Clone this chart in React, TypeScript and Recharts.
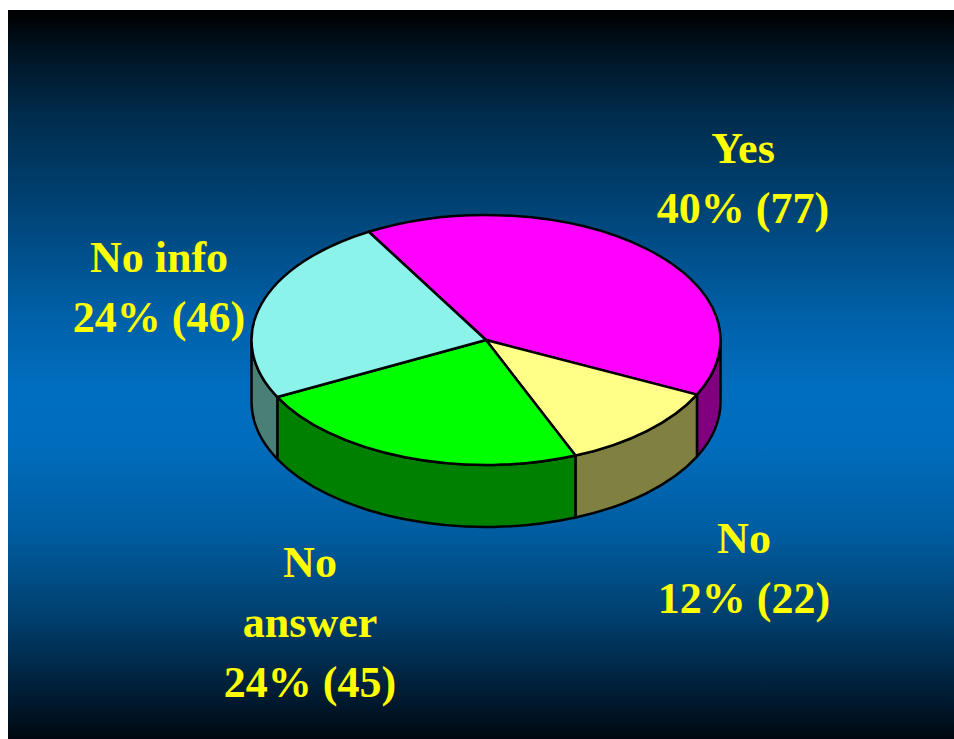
import React from "react";
import { PieChart, Pie } from "recharts";

// survey answers, drawn clockwise from the top-left
const categories = ["Yes", "No", "No answer", "No info"];
const counts = [77, 22, 45, 46];
const percents = [40, 12, 24, 24];
const topColors = ["#ff00ff", "#ffff88", "#00ff00", "#8cf3ea"];
const sideColors = ["#800080", "#808040", "#008000", "#4a7f78"];

const W = 946;
const H = 729;
const CX = 478;
const CY = 330;
const RX = 234.5;
const RY = 125;
const DEPTH = 62;

const data = categories.map((name, i) => ({
  name,
  value: counts[i],
  fill: topColors[i],
  side: sideColors[i],
}));

const pt = (cx: number, cy: number, a: number, dy = 0) => {
  const r = (a * Math.PI) / 180;
  return [cx + RX * Math.cos(r), cy - RY * Math.sin(r) + dy];
};

// elliptical sector with its front wall, so the pie reads as a tilted disc
function Slice3D(props: any) {
  const { cx, cy, startAngle, endAngle, payload } = props;
  const fill = payload?.fill ?? props.fill;
  const side = payload?.side ?? "#333";
  const s = pt(cx, cy, startAngle);
  const e = pt(cx, cy, endAngle);
  const large = Math.abs(startAngle - endAngle) > 180 ? 1 : 0;
  const top = `M${cx},${cy} L${s[0]},${s[1]} A${RX},${RY} 0 ${large} 1 ${e[0]},${e[1]} Z`;

  // visible wall = part of the rim in the front half (-180..0)
  const a1 = Math.min(startAngle, 0);
  const a2 = Math.max(endAngle, -180);
  let wall = null;
  if (a1 > a2) {
    const p1 = pt(cx, cy, a1);
    const p2 = pt(cx, cy, a2);
    const q2 = pt(cx, cy, a2, DEPTH);
    const q1 = pt(cx, cy, a1, DEPTH);
    const d = `M${p1[0]},${p1[1]} A${RX},${RY} 0 0 1 ${p2[0]},${p2[1]} L${q2[0]},${q2[1]} A${RX},${RY} 0 0 0 ${q1[0]},${q1[1]} Z`;
    wall = <path d={d} fill={side} stroke="#000" strokeWidth={2.5} strokeLinejoin="round" />;
  }
  return (
    <g>
      {wall}
      <path d={top} fill={fill} stroke="#000" strokeWidth={2.5} strokeLinejoin="round" />
    </g>
  );
}

// label blocks: centre x and first baseline, in chart coords
const labelLines = [
  { x: 735, y: 153, lines: ["Yes", `${percents[0]}% (${counts[0]})`] },
  { x: 736, y: 543, lines: ["No", `${percents[1]}% (${counts[1]})`] },
  { x: 302, y: 567, lines: ["No", "answer", `${percents[2]}% (${counts[2]})`] },
  { x: 151, y: 262, lines: ["No info", `${percents[3]}% (${counts[3]})`] },
];

export default function App() {
  return (
    <div
      style={{
        position: "absolute",
        left: 8,
        top: 10,
        width: W,
        height: H,
        background:
          "linear-gradient(to bottom, #000000 0%, #001424 6%, #002b4a 14%, #004578 28%, #0060a8 42%, #006ec0 52%, #006cbc 60%, #005c9f 72%, #003d6a 84%, #001c33 94%, #000810 100%)",
      }}
    >
      <PieChart
        width={W}
        height={H}
        margin={{ top: 0, right: 0, bottom: 0, left: 0 }}
        style={{ position: "absolute", left: 0, top: 0 }}
      >
        <Pie
          data={data}
          dataKey="value"
          nameKey="name"
          cx={CX}
          cy={CY}
          outerRadius={RX}
          startAngle={120}
          endAngle={-240}
          stroke="#000"
          shape={Slice3D}
          activeShape={Slice3D}
          inactiveShape={Slice3D}
          isAnimationActive={false}
          labelLine={false}
        />
      </PieChart>
      <svg width={W} height={H} style={{ position: "absolute", left: 0, top: 0, pointerEvents: "none" }}>
        {labelLines.map((l, i) => (
          <text
            key={i}
            textAnchor="middle"
            fill="#ffff00"
            fontFamily="'Liberation Serif', 'Times New Roman', serif"
            fontWeight="bold"
            fontSize={44}
          >
            {l.lines.map((t, j) => (
              <tspan key={j} x={l.x} y={l.y + j * 60}>
                {t}
              </tspan>
            ))}
          </text>
        ))}
      </svg>
    </div>
  );
}
